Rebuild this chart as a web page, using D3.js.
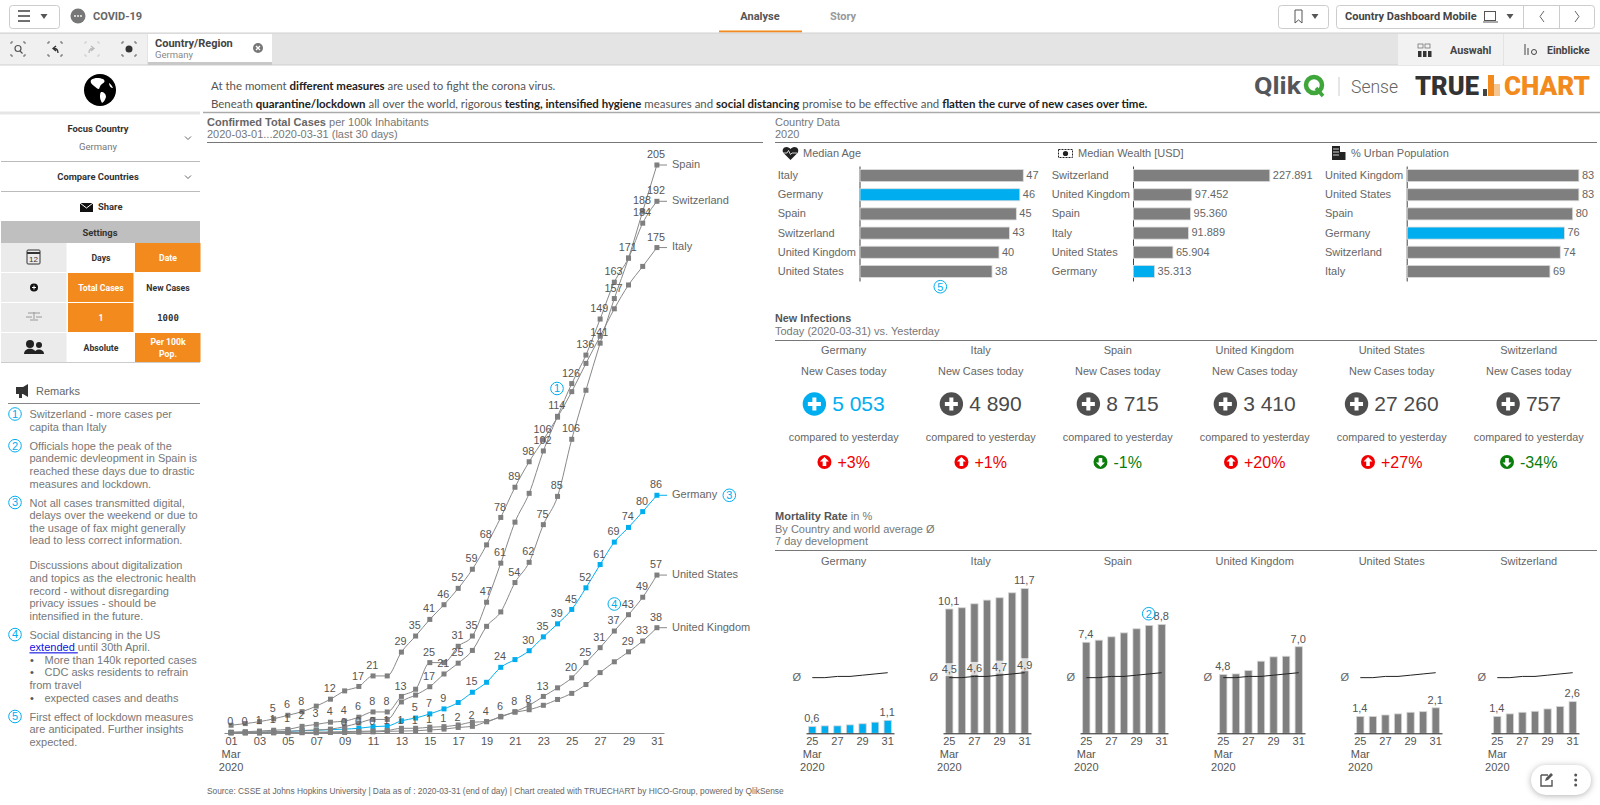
<!DOCTYPE html>
<html>
<head>
<meta charset="utf-8">
<title>COVID-19 Country Dashboard</title>
<script src="https://cdn.jsdelivr.net/npm/d3@7"></script>
<style>
  html, body { margin: 0; padding: 0; background: #fff; overflow: hidden; }
  svg { display: block; }
</style>
</head>
<body>
<svg id="chart" width="1600" height="805"></svg>
<script>
// ---- data ----
const days = d3.range(1, 32);
const dayTicks = days.filter(d => d % 2 === 1);

const germanyCases = [0.2, 0.2, 0.2, 0.3, 0.6, 0.8, 1, 1.2, 1.4, 1.7, 2.3, 2.5, 4.4, 5.4, 6.9, 8.7, 11, 14.7, 18.3, 23.7, 26.5, 29.7, 34.7, 39.4, 44.6, 52.4, 60.8, 68.9, 74.2, 79.9, 85.8];
const italyCases = [2.8, 3.4, 4.1, 5.1, 6.4, 7.7, 9.7, 12.2, 15.2, 16.8, 20.6, 20.6, 29.2, 35, 41, 46.3, 52.2, 59.1, 67.9, 77.8, 88.7, 97.9, 105.8, 114, 123.2, 133.4, 143.2, 153.1, 161.7, 168.4, 175.2];
const spainCases = [0.2, 0.3, 0.4, 0.5, 0.6, 0.9, 1.1, 1.4, 2.3, 3.6, 4.9, 4.9, 11.2, 13.7, 16.7, 21.3, 25.2, 29.8, 38.5, 43.7, 54.3, 61.6, 75.2, 85.4, 106, 123.7, 140.7, 156.8, 171.4, 188.3, 205];
const switzerlandCases = [0.3, 0.45, 0.7, 1, 1.3, 2.4, 3.1, 3.9, 4.3, 5.7, 7.6, 7.6, 13.2, 15.8, 25.4, 25.4, 31.3, 35, 47.2, 61.3, 76.1, 86.5, 101.8, 114.3, 126.1, 136.4, 149.4, 162.7, 171.4, 184, 191.9];
const usCases = [0, 0, 0, 0.1, 0.1, 0.1, 0.1, 0.2, 0.2, 0.3, 0.4, 0.6, 0.7, 0.8, 1.1, 1.4, 2, 2.4, 4.1, 5.8, 7.7, 10, 13.2, 16.3, 19.9, 25.4, 30.8, 36.8, 42.7, 49, 57];
const ukCases = [0.1, 0.1, 0.1, 0.1, 0.2, 0.2, 0.3, 0.4, 0.5, 0.6, 0.7, 0.9, 1.7, 1.7, 2.1, 2.3, 2.9, 3.9, 4.1, 6, 7.5, 8.4, 10, 12.1, 14.3, 17.5, 21.8, 25.7, 29.3, 33.2, 38];

const germanyLabelDays = [14, 15, 16, 18, 20, 22, 23, 24, 25, 26, 27, 28, 29, 30, 31];
const italyLabelDays = [4, 5, 6, 8, 10, 11, 13, 14, 15, 16, 17, 18, 19, 20, 21, 22, 23, 31];
const spainLabelDays = [15, 16, 17, 21, 22, 23, 24, 25, 27, 28, 29, 30, 31];
const switzerlandLabelDays = [1, 2, 3, 4, 5, 6, 7, 8, 9, 10, 11, 12, 13, 15, 17, 18, 19, 20, 23, 24, 25, 26, 27, 28, 30, 31];
const usLabelDays = [9, 10, 11, 12, 13, 14, 15, 16, 17, 18, 19, 20, 21, 23, 25, 26, 27, 28, 29, 30, 31];
const ukLabelDays = [22, 29, 30, 31];

const ageCountries = ["Italy", "Germany", "Spain", "Switzerland", "United Kingdom", "United States"];
const ageValues = [47, 46, 45, 43, 40, 38];
const wealthCountries = ["Switzerland", "United Kingdom", "Spain", "Italy", "United States", "Germany"];
const wealthValues = [227891, 97452, 95360, 91889, 65904, 35313];
const urbanCountries = ["United Kingdom", "United States", "Spain", "Germany", "Switzerland", "Italy"];
const urbanValues = [83, 83, 80, 76, 74, 69];

const panelCountries = ["Germany", "Italy", "Spain", "United Kingdom", "United States", "Switzerland"];
const newCasesToday = [5053, 4890, 8715, 3410, 27260, 757];
const changeToYesterday = [3, 1, -1, 20, 27, -34];

const mortalityDays = [25, 26, 27, 28, 29, 30, 31];
const mortalityTicks = [25, 27, 29, 31];
const germanyMortality = [0.55, 0.6, 0.6, 0.68, 0.77, 0.9, 1.05];
const italyMortality = [10.05, 10.15, 10.47, 10.77, 10.96, 11.36, 11.7];
const spainMortality = [7.36, 7.53, 7.8, 8.12, 8.45, 8.72, 8.8];
const ukMortality = [4.75, 4.8, 5.07, 5.83, 6.18, 6.23, 7];
const usMortality = [1.36, 1.36, 1.48, 1.57, 1.7, 1.75, 2.06];
const switzerlandMortality = [1.36, 1.57, 1.7, 1.78, 1.97, 2.16, 2.56];
const worldMortality = [4.5, 4.5, 4.6, 4.6, 4.7, 4.8, 4.9];

const remarks = [
  ["Switzerland - more cases per", "capita than Italy"],
  ["Officials hope the peak of the", "pandemic devleopment in Spain is", "reached these days due to drastic", "measures and lockdown."],
  ["Not all cases transmitted digital,", "delays over the weekend or due to", "the usage of fax might generally", "lead to less correct information.", "", "Discussions about digitalization", "and topics as the electronic health", "record - without disregarding", "privacy issues - should be", "intensified in the future."],
  ["Social distancing in the US", "[extended] until 30th April.", "• More than 140k reported cases", "• CDC asks residents to refrain", "from travel", "• expected cases and deaths"],
  ["First effect of lockdown measures", "are anticipated. Further insights", "expected."]
];

// ---- shared helpers ----
const ARIAL = "'Liberation Sans', Arial, sans-serif";
const UI = "Roboto, sans-serif";
const CYAN = "#00aeef";
const ORANGE = "#f28a1e";
const GREY_BAR = "#7f7f7f";

const svg = d3.select("#chart");
const fmtWhole = d3.format(".0f");
const deLocale = d3.formatLocale({ decimal: ",", thousands: ".", grouping: [3], currency: ["", ""] });
const fmtDots = deLocale.format(",d");
const fmtComma = deLocale.format(".1f");
const fmtSpaced = d3.formatLocale({ decimal: ",", thousands: " ", grouping: [3], currency: ["", ""] }).format(",d");

function txt(parent, x, y, s, o = {}) {
    return parent.append("text")
        .attr("x", x).attr("y", y).attr("dy", ".35em")
        .attr("font-family", o.font || ARIAL)
        .attr("font-size", o.size || 11)
        .attr("font-weight", o.weight || 400)
        .attr("fill", o.fill || "#666")
        .attr("text-anchor", o.anchor || "start")
        .text(s);
}

// text with [string, bold] runs
function rich(parent, x, y, runs, o = {}) {
    const t = txt(parent, x, y, null, o);
    runs.forEach(([s, bold]) => {
        t.append("tspan")
            .attr("font-weight", bold ? 700 : 400)
            .attr("fill", bold ? (o.boldFill || o.fill || "#333") : (o.fill || "#666"))
            .text(s);
    });
    return t;
}

function hline(x1, x2, y, color, width = 1) {
    svg.append("line").attr("x1", x1).attr("x2", x2).attr("y1", y).attr("y2", y)
        .attr("stroke", color).attr("stroke-width", width);
}

function numberBadge(cx, cy, n) {
    svg.append("circle").attr("cx", cx).attr("cy", cy).attr("r", 6.3)
        .attr("fill", "none").attr("stroke", CYAN).attr("stroke-width", 1);
    txt(svg, cx, cy, n, { anchor: "middle", size: 11, fill: CYAN });
}

function triangle(cx, cy, color = "#555") {
    svg.append("path").attr("d", `M${cx - 3.5},${cy - 2}h7l-3.5,5z`).attr("fill", color);
}

function chevron(cx, cy) {
    svg.append("path").attr("d", `M${cx - 3},${cy - 1.5}l3,3l3,-3`)
        .attr("fill", "none").attr("stroke", "#666").attr("stroke-width", 1);
}

function button(x, y, w, h) {
    svg.append("rect").attr("x", x + .5).attr("y", y + .5).attr("width", w).attr("height", h).attr("rx", 3)
        .attr("fill", "#fff").attr("stroke", "#ccc");
}

// ---- top bars ----
function drawToolbar() {
    button(9, 5, 50, 23);
    [11, 16, 21].forEach(y => hline(18, 30, y, "#333", 1.4));
    triangle(44, 16);
    svg.append("circle").attr("cx", 78).attr("cy", 16).attr("r", 7.5).attr("fill", "#777");
    [75, 78, 81].forEach(x => svg.append("circle").attr("cx", x).attr("cy", 16).attr("r", .9).attr("fill", "#fff"));
    txt(svg, 93, 16, "COVID-19", { font: UI, size: 11, weight: 700, fill: "#666" });

    txt(svg, 760, 16, "Analyse", { font: UI, size: 11, weight: 700, fill: "#555", anchor: "middle" });
    txt(svg, 843, 16, "Story", { font: UI, size: 11, weight: 700, fill: "#999", anchor: "middle" });
    hline(719, 802, 31.5, ORANGE, 2);

    button(1278, 5, 50, 23);
    svg.append("path").attr("d", "M1295,10h7v13l-3.5,-3l-3.5,3z").attr("fill", "none").attr("stroke", "#555");
    triangle(1315, 16);
    button(1336, 5, 258, 23);
    txt(svg, 1345, 16, "Country Dashboard Mobile", { font: UI, size: 11, weight: 700, fill: "#444" });
    svg.append("rect").attr("x", 1484.5).attr("y", 11.5).attr("width", 11).attr("height", 9).attr("fill", "none").attr("stroke", "#555");
    hline(1483, 1498, 22, "#555");
    triangle(1510, 16);
    [1523.5, 1559.5].forEach(x => svg.append("line").attr("x1", x).attr("x2", x).attr("y1", 5).attr("y2", 28).attr("stroke", "#ccc"));
    svg.append("path").attr("d", "M1544,11l-4,5.5l4,5.5M1575,11l4,5.5l-4,5.5").attr("fill", "none").attr("stroke", "#666");

    svg.append("rect").attr("x", 0).attr("y", 33).attr("width", 1600).attr("height", 32).attr("fill", "#e4e4e4");
    svg.append("rect").attr("x", 0).attr("y", 34).attr("width", 147).attr("height", 31).attr("fill", "#f0f0f0");
    hline(0, 1600, 33, "#d0d0d0");
    hline(0, 1600, 65, "#cfcfcf");
    [18, 55, 92, 129].forEach((x, i) => {
        svg.append("rect").attr("x", x - 7).attr("y", 42).attr("width", 14).attr("height", 14)
            .attr("fill", "none").attr("stroke", i === 2 ? "#ccc" : "#666")
            .attr("stroke-dasharray", "4 10").attr("stroke-dashoffset", 2);
    });
    svg.append("circle").attr("cx", 18).attr("cy", 48.5).attr("r", 3).attr("fill", "none").attr("stroke", "#555").attr("stroke-width", 1.2);
    svg.append("path").attr("d", "M20,51l2.5,2.5").attr("stroke", "#555").attr("stroke-width", 1.2);
    svg.append("path").attr("d", "M58,53c0,-3 -1,-4.5 -4,-4.5M56,46l-3,2.5l3,2.5").attr("fill", "none").attr("stroke", "#333").attr("stroke-width", 1.3);
    svg.append("path").attr("d", "M89,53c0,-3 1,-4.5 4,-4.5M91,46l3,2.5l-3,2.5").attr("fill", "none").attr("stroke", "#bbb").attr("stroke-width", 1.3);
    svg.append("circle").attr("cx", 129).attr("cy", 49).attr("r", 3.5).attr("fill", "#333");

    svg.append("rect").attr("x", 148).attr("y", 34).attr("width", 124).attr("height", 28).attr("fill", "#fff");
    svg.append("rect").attr("x", 148).attr("y", 62).attr("width", 124).attr("height", 3).attr("fill", "#c8c8c8");
    txt(svg, 155, 43, "Country/Region", { font: UI, size: 11, weight: 700, fill: "#444" });
    txt(svg, 155, 55, "Germany", { font: UI, size: 9.5, fill: "#888" });
    svg.append("circle").attr("cx", 258).attr("cy", 48).attr("r", 5).attr("fill", "#777");
    svg.append("path").attr("d", "M256,46l4,4M260,46l-4,4").attr("stroke", "#fff").attr("stroke-width", 1.3);

    svg.append("rect").attr("x", 1398).attr("y", 34).attr("width", 105).attr("height", 31).attr("fill", "#f2f2f2");
    svg.append("rect").attr("x", 1504).attr("y", 34).attr("width", 96).attr("height", 31).attr("fill", "#f2f2f2");
    [1418, 1425].forEach(x => svg.append("rect").attr("x", x).attr("y", 44).attr("width", 5).attr("height", 4).attr("fill", "none").attr("stroke", "#666").attr("stroke-width", .7));
    [1418, 1423, 1428].forEach(x => svg.append("rect").attr("x", x).attr("y", 51).attr("width", 3.5).attr("height", 6).attr("fill", "#333"));
    txt(svg, 1450, 50, "Auswahl", { font: UI, size: 10.8, weight: 700, fill: "#444" });
    svg.append("path").attr("d", "M1525,44v11M1528,48v7").attr("stroke", "#444");
    svg.append("circle").attr("cx", 1534).attr("cy", 52).attr("r", 2.5).attr("fill", "none").attr("stroke", "#444");
    txt(svg, 1547, 50, "Einblicke", { font: UI, size: 10.5, weight: 700, fill: "#444" });
}

function drawHeadline() {
    const head = { font: "Lato, sans-serif", size: 11.45, fill: "#555", boldFill: "#222" };
    rich(svg, 211, 86, [["At the moment ", 0], ["different measures", 1], [" are used to fight the corona virus.", 0]], head);
    rich(svg, 211, 104, [["Beneath ", 0], ["quarantine/lockdown", 1], [" all over the world, rigorous ", 0], ["testing, intensified hygiene", 1],
        [" measures and ", 0], ["social distancing", 1], [" promise to be effective and ", 0], ["flatten the curve of new cases over time.", 1]], head);
    hline(203, 1600, 112.5, "#aaa", 1.5);

    // logos
    const logo = (x, w, s, fill, size, weight, fam) => txt(svg, x, 86, s, { font: fam || UI, size, weight, fill })
        .attr("textLength", w).attr("lengthAdjust", "spacingAndGlyphs");
    logo(1254, 47, "Qlik", "#54565a", 23, 700);
    svg.append("circle").attr("cx", 1314).attr("cy", 85).attr("r", 8).attr("fill", "none").attr("stroke", "#3ea63a").attr("stroke-width", 4.5);
    svg.append("path").attr("d", "M1316,88l7,8").attr("stroke", "#3ea63a").attr("stroke-width", 3.5);
    svg.append("line").attr("x1", 1339).attr("x2", 1339).attr("y1", 77).attr("y2", 96).attr("stroke", "#ccc");
    logo(1351, 47, "Sense", "#666", 19, 300);
    logo(1415, 64, "TRUE", "#333", 26, 900);
    svg.append("rect").attr("x", 1483).attr("y", 89).attr("width", 4).attr("height", 7).attr("fill", "#444");
    svg.append("rect").attr("x", 1488).attr("y", 75).attr("width", 6).attr("height", 21).attr("fill", ORANGE);
    svg.append("rect").attr("x", 1494).attr("y", 84).attr("width", 6).attr("height", 12).attr("fill", "#f7c590");
    logo(1504, 86, "CHART", ORANGE, 26, 900);
}

// ---- left column ----
function drawSidebar() {
    // globe
    svg.append("circle").attr("cx", 100).attr("cy", 90).attr("r", 16).attr("fill", "#000");
    svg.append("path").attr("fill", "#fff")
        .attr("d", "M91,80c4,-3 9,-2 12,-1c3,2 1,4 -1,5c-2,1 -2,3 -3,5c-2,0 -3,-2 -5,-3c-2,-2 -4,-3 -3,-6zM101,92c3,0 5,2 5,5c-1,3 -2,5 -4,6c-1,-2 -2,-4 -2,-6c0,-2 0,-4 1,-5zM109,83c2,1 3,3 4,5c-2,0 -4,-2 -4,-5z");
    hline(0, 200, 113, "#e5e5e5", 3);

    const bold = { font: UI, size: 9.4, weight: 700, fill: "#333", anchor: "middle" };
    txt(svg, 98, 129, "Focus Country", bold);
    txt(svg, 98, 147, "Germany", { font: UI, size: 9.5, fill: "#777", anchor: "middle" });
    chevron(188, 138);
    hline(1, 200, 161.5, "#bbb");
    txt(svg, 98, 177, "Compare Countries", bold);
    chevron(188, 177);
    hline(1, 200, 191.5, "#bbb");
    svg.append("rect").attr("x", 80).attr("y", 203).attr("width", 13).attr("height", 9).attr("fill", "#111");
    svg.append("path").attr("d", "M80,203l6.5,5l6.5,-5").attr("fill", "none").attr("stroke", "#fff");
    txt(svg, 98, 207, "Share", { font: UI, size: 9.4, weight: 700, fill: "#333" });

    svg.append("rect").attr("x", 1).attr("y", 221).attr("width", 199).attr("height", 22).attr("fill", "#bfbfbf");
    txt(svg, 100, 233, "Settings", bold);

    const cols = [1, 68, 135];
    const rows = [243, 273, 303, 333];
    const cells = [
        ["", "Days", "Date"],
        ["", "Total Cases", "New Cases"],
        ["", "1", "1000"],
        ["", "Absolute", "Per 100k|Pop."]
    ];
    const activeColumn = [2, 1, 1, 2];
    rows.forEach((y, r) => cols.forEach((x, c) => {
        const on = activeColumn[r] === c;
        svg.append("rect").attr("x", x).attr("y", y).attr("width", 65.5).attr("height", 29)
            .attr("fill", c === 0 ? "#ebebeb" : on ? ORANGE : "#fff");
        cells[r][c].split("|").forEach((s, i, all) => {
            if (!s) return;
            const mono = s === "1000";
            txt(svg, x + 33, y + 14.5 + (i - (all.length - 1) / 2) * 12, s,
                { font: mono ? "'DejaVu Sans Mono', monospace" : UI, size: mono ? 9 : 8.7, weight: 700, fill: on ? "#fff" : "#333", anchor: "middle" });
        });
    }));
    hline(1, 200, 362.5, "#ccc");

    // settings icons
    svg.append("rect").attr("x", 27).attr("y", 250).attr("width", 13).attr("height", 14).attr("rx", 1).attr("fill", "none").attr("stroke", "#333");
    hline(27, 40, 253, "#333", 2);
    txt(svg, 33.5, 259, "12", { size: 8, anchor: "middle", fill: "#333" });
    svg.append("circle").attr("cx", 34).attr("cy", 287.5).attr("r", 4).attr("fill", "#111");
    svg.append("path").attr("d", "M32,287.5h4M34,285.5v4").attr("stroke", "#fff");
    svg.append("path").attr("d", "M34,312v7M28,313h12M26,317h6M36,317h6M30,320h8").attr("stroke", "#999").attr("fill", "none");
    [[30, 344, 4], [39, 345, 3]].forEach(([x, y, r]) => {
        svg.append("circle").attr("cx", x).attr("cy", y).attr("r", r).attr("fill", "#222");
        svg.append("path").attr("d", `M${x - r - 2},${y + r + 6}c0,-${r + 3} ${2 * r + 4},-${r + 3} ${2 * r + 4},0z`).attr("fill", "#222");
    });

    // remarks
    svg.append("path").attr("d", "M16,387h7l5,-3v13l-5,-3h-1v4h-3v-4h-3z").attr("fill", "#333");
    txt(svg, 36, 391, "Remarks", { size: 11, fill: "#666" });
    hline(8, 200, 403.5, "#888");

    const lineHeight = 12.55;
    let y = 414.3;
    remarks.forEach((lines, p) => {
        numberBadge(15, y - .3, p + 1);
        lines.forEach(line => {
            if (line.startsWith("[extended]")) {
                const t = txt(svg, 29.5, y, null, { size: 11, fill: "#777" });
                t.append("tspan").attr("fill", "#1010e0").attr("text-decoration", "underline").text("extended ");
                t.append("tspan").text(line.replace("[extended] ", ""));
            } else if (line.startsWith("• ")) {
                txt(svg, 30, y, "•", { size: 11, fill: "#555" });
                txt(svg, 44.5, y, line.slice(2), { size: 11, fill: "#777" });
            } else if (line) {
                txt(svg, 29.5, y, line, { size: 11, fill: "#777" });
            }
            y += lineHeight;
        });
        y += 6.6;
    });
}

// ---- confirmed cases line chart ----
function drawCases() {
    rich(svg, 207, 122, [["Confirmed Total Cases", 1], [" per 100k Inhabitants", 0]], { size: 11, fill: "#777", boldFill: "#666" });
    txt(svg, 207, 134.5, "2020-03-01...2020-03-31 (last 30 days)", { size: 11, fill: "#777" });
    hline(207, 763, 142.5, "#777");

    const x = d3.scalePoint().domain(days).range([224, 664]).padding(.5);
    const y = d3.scaleLinear().domain([0, 205]).range([733, 165]);

    const series = [
        { name: "Germany", values: germanyCases, labelDays: germanyLabelDays, color: CYAN },
        { name: "Italy", values: italyCases, labelDays: italyLabelDays, color: "#888" },
        { name: "Spain", values: spainCases, labelDays: spainLabelDays, color: "#888" },
        { name: "Switzerland", values: switzerlandCases, labelDays: switzerlandLabelDays, color: "#888" },
        { name: "United States", values: usCases, labelDays: usLabelDays, color: "#888" },
        { name: "United Kingdom", values: ukCases, labelDays: ukLabelDays, color: "#888" }
    ];

    const line = d3.line().x((d, i) => x(days[i])).y(d => y(d)).curve(d3.curveMonotoneX);
    const axis = svg.append("g").attr("transform", "translate(0,733)")
        .call(d3.axisBottom(x).tickValues(dayTicks).tickSize(0).tickPadding(4.1).tickFormat(d3.format("02d")));
    axis.select(".domain").attr("stroke", "#888");
    axis.selectAll("text").attr("font-family", ARIAL).attr("font-size", 11).attr("fill", "#555");
    txt(svg, x(1), 754, "Mar", { anchor: "middle", size: 11, fill: "#555" });
    txt(svg, x(1), 767, "2020", { anchor: "middle", size: 11, fill: "#555" });

    series.forEach(s => {
        const g = svg.append("g").attr("class", "series");
        g.append("path").attr("d", line(s.values)).attr("fill", "none").attr("stroke", s.color).attr("stroke-width", 1);
        const lastY = y(s.values[s.values.length - 1]);
        g.append("line").attr("x1", x(31)).attr("x2", 667).attr("y1", lastY).attr("y2", lastY).attr("stroke", s.color);
        g.selectAll("rect").data(s.values).join("rect")
            .attr("x", (d, i) => x(days[i]) - 2.5).attr("y", d => y(d) - 2.5)
            .attr("width", 5).attr("height", 5).attr("fill", s.color === CYAN ? CYAN : GREY_BAR);
        txt(g, 672, lastY - 1, s.name, { size: 11, fill: "#666" });
    });
    series.forEach(s => {
        s.labelDays.forEach(d => {
            txt(svg, x(d) - .8, y(s.values[d - 1]) - 10.7, fmtWhole(s.values[d - 1]), { anchor: "middle", size: 10.8, fill: "#555" });
        });
    });

    numberBadge(557, 388.5, 1);
    numberBadge(729.3, 495.3, 3);
    numberBadge(614.3, 604, 4);
}

// ---- country data bars ----
function drawBarPanel(countries, values, o) {
    const x = d3.scaleLinear().domain([0, o.domainMax]).range([o.axisX, o.axisX + o.barMax]);
    const y = d3.scaleBand().domain(countries).range([166, 281]).paddingInner(.37).paddingOuter(.185);
    const axis = svg.append("g").attr("transform", `translate(${o.axisX},0)`)
        .call(d3.axisLeft(y).tickSize(0).tickSizeOuter(0));
    axis.select(".domain").attr("stroke", "#444");
    axis.selectAll("text").attr("text-anchor", "start").attr("x", o.labelX - o.axisX)
        .attr("font-family", ARIAL).attr("font-size", 11).attr("fill", "#666");
    svg.append("g").selectAll("rect").data(values).join("rect")
        .attr("x", o.axisX + .5).attr("y", (d, i) => y(countries[i]))
        .attr("width", d => x(d) - o.axisX).attr("height", y.bandwidth())
        .attr("fill", (d, i) => countries[i] === "Germany" ? CYAN : GREY_BAR)
        .attr("stroke", "#ddd").attr("stroke-width", .8);
    values.forEach((d, i) => {
        txt(svg, x(d) + 3.5, y(countries[i]) + y.bandwidth() / 2 - .5, o.format(d), { size: 11, fill: "#666" });
    });
}

function drawCountryData() {
    txt(svg, 775, 122, "Country Data", { size: 11, fill: "#777" });
    txt(svg, 775, 134.5, "2020", { size: 11, fill: "#777" });
    hline(775, 1597, 142.5, "#777");

    // header icons
    svg.append("path").attr("d", "M790.5,160l-7,-7c-2,-3 0,-6 3,-6c2,0 3,1 4,2c1,-1 2,-2 4,-2c3,0 5,3 3,6z").attr("fill", "#222");
    svg.append("path").attr("d", "M783,153h4l1.5,-2.5l2,4l1.5,-1.5h5").attr("fill", "none").attr("stroke", "#fff").attr("stroke-width", .8);
    txt(svg, 803, 153, "Median Age", { size: 11, fill: "#666" });
    svg.append("rect").attr("x", 1058.5).attr("y", 149.5).attr("width", 14).attr("height", 8).attr("fill", "none").attr("stroke", "#222").attr("stroke-dasharray", "2 1");
    svg.append("circle").attr("cx", 1065.5).attr("cy", 153.5).attr("r", 2.6).attr("fill", "#222");
    txt(svg, 1078, 153, "Median Wealth [USD]", { size: 11, fill: "#666" });
    svg.append("rect").attr("x", 1332).attr("y", 146).attr("width", 8).attr("height", 14).attr("fill", "#222");
    svg.append("rect").attr("x", 1340).attr("y", 152).attr("width", 5.5).attr("height", 8).attr("fill", "#222");
    [149, 152, 155].forEach(yy => hline(1333, 1339, yy, "#fff", .8));
    txt(svg, 1351, 153, "% Urban Population", { size: 11, fill: "#666" });

    drawBarPanel(ageCountries, ageValues, { axisX: 859.5, domainMax: 47, barMax: 163.3, labelX: 777.7, format: fmtWhole });
    drawBarPanel(wealthCountries, wealthValues, { axisX: 1133, domainMax: 227891, barMax: 136.3, labelX: 1051.7, format: fmtDots });
    drawBarPanel(urbanCountries, urbanValues, { axisX: 1406.7, domainMax: 83, barMax: 171.7, labelX: 1325, format: fmtWhole });
    numberBadge(940.3, 286.7, 5);
}

// ---- new infections kpis ----
function drawKpis() {
    txt(svg, 775, 318.3, "New Infections", { size: 10.8, weight: 700, fill: "#555" });
    txt(svg, 775, 331, "Today (2020-03-31) vs. Yesterday", { size: 11, fill: "#777" });
    hline(775, 1597, 340.5, "#777");

    panelCountries.forEach((country, i) => {
        const cx = 843.7 + 137 * i;
        txt(svg, cx, 350, country, { anchor: "middle", size: 11, fill: "#666" });
        txt(svg, cx, 371, "New Cases today", { anchor: "middle", size: 10.9, fill: "#666" });
        txt(svg, cx, 437.5, "compared to yesterday", { anchor: "middle", size: 10.8, fill: "#666" });

        const color = country === "Germany" ? CYAN : "#4f4f4f";
        const big = txt(svg, 0, 404, fmtSpaced(newCasesToday[i]), { size: 21, fill: country === "Germany" ? CYAN : "#4a4a4a" });
        const bigW = big.node().getComputedTextLength();
        const left = cx - (bigW + 29.5) / 2;
        big.attr("x", left + 29.5);
        svg.append("circle").attr("cx", left + 11.7).attr("cy", 404).attr("r", 11.7).attr("fill", color);
        svg.append("path").attr("d", `M${left + 5.2},404h13M${left + 11.7},397.5v13`).attr("stroke", "#fff").attr("stroke-width", 4);

        const change = changeToYesterday[i];
        const up = change > 0;
        const tone = up ? "#f00000" : "#0a7d0a";
        const pct = txt(svg, 0, 462, `${up ? "+" : ""}${change}%`, { size: 16, fill: tone });
        const pctW = pct.node().getComputedTextLength();
        const left2 = cx - (pctW + 20) / 2;
        pct.attr("x", left2 + 20);
        svg.append("circle").attr("cx", left2 + 7).attr("cy", 462).attr("r", 7).attr("fill", tone);
        svg.append("path").attr("fill", "#fff")
            .attr("d", up
                ? `M${left2 + 7},457l4.5,4.5h-2.7v4.5h-3.6v-4.5h-2.7z`
                : `M${left2 + 7},467l4.5,-4.5h-2.7v-4.5h-3.6v4.5h-2.7z`);
    });
}

// ---- mortality small multiples ----
function drawMortality() {
    rich(svg, 775, 516, [["Mortality Rate", 1], [" in %", 0]], { size: 11, fill: "#777", boldFill: "#555" });
    txt(svg, 775, 529, "By Country and world average Ø", { size: 11, fill: "#777" });
    txt(svg, 775, 541.5, "7 day development", { size: 11, fill: "#777" });
    hline(775, 1597, 550.5, "#777");

    const series = [germanyMortality, italyMortality, spainMortality, ukMortality, usMortality, switzerlandMortality];
    const y = d3.scaleLinear().domain([0, 11.7]).range([733.3, 588.6]);

    panelCountries.forEach((country, i) => {
        const cx = 843.7 + 137 * i;
        const x = d3.scaleBand().domain(mortalityDays).range([cx - 37.7, cx + 50.3]).paddingInner(.42).paddingOuter(.21);
        const mid = d => x(d) + x.bandwidth() / 2;
        const values = series[i];

        txt(svg, cx, 561.5, country, { anchor: "middle", size: 11, fill: "#666" });
        txt(svg, cx - 47, 677, "Ø", { anchor: "middle", size: 11, fill: "#666" });

        svg.append("g").selectAll("rect").data(values).join("rect")
            .attr("x", (d, j) => x(mortalityDays[j])).attr("y", d => y(d))
            .attr("width", x.bandwidth()).attr("height", d => y(0) - y(d))
            .attr("fill", country === "Germany" ? CYAN : GREY_BAR)
            .attr("stroke", "#d5d5d5").attr("stroke-width", .8);

        const axis = svg.append("g").attr("transform", "translate(0,733.3)")
            .call(d3.axisBottom(x).tickValues(mortalityTicks).tickSize(0).tickSizeOuter(0).tickPadding(3.5));
        axis.select(".domain").attr("stroke", "#222");
        axis.selectAll("text").attr("font-family", ARIAL).attr("font-size", 11).attr("fill", "#555");
        txt(svg, mid(25), 754, "Mar", { anchor: "middle", size: 11, fill: "#555" });
        txt(svg, mid(25), 767, "2020", { anchor: "middle", size: 11, fill: "#555" });

        [0, values.length - 1].forEach(j => {
            txt(svg, mid(mortalityDays[j]) - .5, y(values[j]) - 8, fmtComma(values[j]), { anchor: "middle", size: 11, fill: "#555" });
        });

        // world average only labelled on Italy
        if (country === "Italy") {
            mortalityTicks.forEach(d => {
                const v = worldMortality[d - 25];
                svg.append("rect").attr("x", mid(d) - 8).attr("y", y(v) - 14.5).attr("width", 16).attr("height", 13)
                    .attr("fill", "#fff").attr("opacity", .75);
                txt(svg, mid(d), y(v) - 8, fmtComma(v), { anchor: "middle", size: 11, fill: "#555" });
            });
        }
        const avgLine = d3.line().x((d, j) => mid(mortalityDays[j])).y(d => y(d)).curve(d3.curveLinear);
        svg.append("path").attr("d", avgLine(worldMortality)).attr("fill", "none").attr("stroke", "#222").attr("stroke-width", 1);
    });

    numberBadge(1148.7, 613.7, 2);
}

function drawFooter() {
    txt(svg, 207, 791, "Source: CSSE at Johns Hopkins University | Data as of : 2020-03-31 (end of day) | Chart created with TRUECHART by HICO-Group, powered by QlikSense",
        { size: 8.35, fill: "#666" });

    svg.append("rect").attr("x", 1531).attr("y", 765).attr("width", 60).attr("height", 30).attr("rx", 15)
        .attr("fill", "#fff").style("filter", "drop-shadow(0 1px 3px rgba(0,0,0,.3))");
    svg.append("path").attr("d", "M1541,775h7M1541,775v11h11v-6").attr("fill", "none").attr("stroke", "#555").attr("stroke-width", 1.4);
    svg.append("path").attr("d", "M1545,781l1,-3l5,-5l2,2l-5,5z").attr("fill", "#555");
    [775, 780, 785].forEach(y => svg.append("circle").attr("cx", 1575.7).attr("cy", y).attr("r", 1.5).attr("fill", "#555"));
}

drawToolbar();
drawHeadline();
drawSidebar();
drawCases();
drawCountryData();
drawKpis();
drawMortality();
drawFooter();
</script>
</body>
</html>
